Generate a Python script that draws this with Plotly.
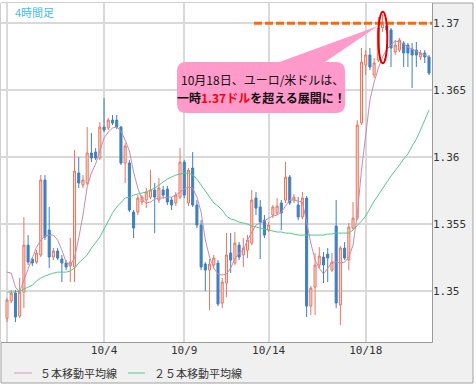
import plotly.graph_objects as go

# ---------------- data ----------------
idx = list(range(101))

open_ = [1.34795, 1.34923, 1.34982, 1.34810, 1.34990, 1.35341, 1.35237, 1.35214, 1.35267, 1.35828,
         1.35454, 1.35252, 1.35297, 1.35237, 1.35207, 1.35184, 1.35177, 1.35880, 1.35790, 1.35805,
         1.36030, 1.36037, 1.35992, 1.36224, 1.36217, 1.36276, 1.36276, 1.36224, 1.35955, 1.35955,
         1.35588, 1.35588, 1.35663, 1.35678, 1.35700, 1.35753, 1.35678, 1.35753, 1.35760, 1.35678,
         1.35656, 1.35700, 1.35962, 1.35656, 1.35917, 1.35641, 1.35491, 1.35199, 1.35154, 1.35192,
         1.35207, 1.34908, 1.35057, 1.35282, 1.35207, 1.35341, 1.35267, 1.35304, 1.35356, 1.35693,
         1.35626, 1.35528, 1.35454, 1.35566, 1.35581, 1.35656, 1.35678, 1.35850, 1.35678, 1.35641,
         1.35551, 1.35693, 1.34885, 1.35027, 1.35192, 1.35252, 1.35274, 1.35154, 1.35484, 1.34893,
         1.35319, 1.35229, 1.35469, 1.35543, 1.36254, 1.36688, 1.36763, 1.36613, 1.36725, 1.36965,
         1.36980, 1.36950, 1.36785, 1.36800, 1.36852, 1.36837, 1.36807, 1.36800, 1.36748, 1.36778,
         1.36748]

high = [1.34945, 1.35005, 1.35005, 1.35095, 1.35551, 1.35416, 1.35252, 1.35304, 1.35865, 1.35865,
        1.35626, 1.35319, 1.35319, 1.35267, 1.35229, 1.35394, 1.36052, 1.36000, 1.35865, 1.36224,
        1.36179, 1.36067, 1.36261, 1.36441, 1.36291, 1.36314, 1.36314, 1.36232, 1.36104, 1.35977,
        1.35603, 1.35715, 1.35715, 1.35768, 1.35902, 1.35805, 1.35843, 1.35783, 1.35783, 1.35700,
        1.35738, 1.36067, 1.35977, 1.35917, 1.36037, 1.35678, 1.35528, 1.35214, 1.35237, 1.35267,
        1.35229, 1.35095, 1.35431, 1.35431, 1.35439, 1.35364, 1.35394, 1.35416, 1.35753, 1.35738,
        1.35678, 1.35566, 1.35513, 1.35641, 1.35693, 1.35678, 1.35962, 1.35865, 1.35723, 1.35700,
        1.35738, 1.35708, 1.35035, 1.35282, 1.35326, 1.35289, 1.35319, 1.35282, 1.35678, 1.35334,
        1.35364, 1.35506, 1.35663, 1.36276, 1.36815, 1.36800, 1.36815, 1.36740, 1.37047, 1.37069,
        1.36994, 1.36965, 1.36875, 1.36890, 1.36867, 1.36852, 1.36852, 1.36860, 1.36800, 1.36800,
        1.36763]

low = [1.34765, 1.34908, 1.34765, 1.34795, 1.34870, 1.35192, 1.35184, 1.35199, 1.35252, 1.35379,
       1.35169, 1.35229, 1.35229, 1.35065, 1.35154, 1.35065, 1.35065, 1.35768, 1.35768, 1.35790,
       1.35962, 1.35977, 1.35977, 1.36187, 1.36202, 1.36239, 1.36209, 1.35940, 1.35805, 1.35588,
       1.35394, 1.35566, 1.35641, 1.35618, 1.35685, 1.35431, 1.35656, 1.35693, 1.35641, 1.35603,
       1.35633, 1.35685, 1.35693, 1.35633, 1.35626, 1.35469, 1.35154, 1.34997, 1.34855, 1.35169,
       1.34885, 1.34870, 1.34952, 1.35132, 1.35192, 1.35229, 1.35177, 1.35244, 1.35341, 1.35566,
       1.35237, 1.35394, 1.35439, 1.35543, 1.35566, 1.35454, 1.35656, 1.35641, 1.35656, 1.35528,
       1.35536, 1.34803, 1.34818, 1.34818, 1.35169, 1.35057, 1.35065, 1.35139, 1.34870, 1.34743,
       1.35229, 1.35154, 1.35454, 1.35528, 1.36239, 1.36613, 1.36650, 1.36591, 1.36710, 1.36935,
       1.36927, 1.36673, 1.36763, 1.36785, 1.36673, 1.36673, 1.36516, 1.36673, 1.36725, 1.36703,
       1.36613]

close = [1.34930, 1.34982, 1.34803, 1.34990, 1.35341, 1.35214, 1.35207, 1.35282, 1.35828, 1.35401,
         1.35252, 1.35297, 1.35244, 1.35207, 1.35177, 1.35214, 1.35895, 1.35805, 1.35828, 1.36030,
         1.35992, 1.35992, 1.36224, 1.36202, 1.36276, 1.36254, 1.36224, 1.35955, 1.36082, 1.35603,
         1.35469, 1.35693, 1.35700, 1.35738, 1.35753, 1.35700, 1.35768, 1.35715, 1.35663, 1.35641,
         1.35715, 1.35962, 1.35715, 1.35902, 1.35641, 1.35491, 1.35177, 1.35154, 1.35199, 1.35244,
         1.34900, 1.35065, 1.35267, 1.35229, 1.35356, 1.35252, 1.35319, 1.35379, 1.35678, 1.35618,
         1.35513, 1.35416, 1.35491, 1.35626, 1.35633, 1.35581, 1.35850, 1.35656, 1.35700, 1.35551,
         1.35693, 1.34885, 1.35020, 1.35192, 1.35259, 1.35192, 1.35244, 1.35214, 1.34908, 1.35319,
         1.35244, 1.35476, 1.35543, 1.36239, 1.36710, 1.36763, 1.36673, 1.36703, 1.36965, 1.37009,
         1.36950, 1.36815, 1.36837, 1.36875, 1.36778, 1.36778, 1.36763, 1.36763, 1.36778, 1.36748,
         1.36628]

ma5 = [1.35139, 1.35132, 1.35027, 1.34990, 1.35080, 1.35169, 1.35244, 1.35326, 1.35379, 1.35409,
       1.35416, 1.35416, 1.35379, 1.35304, 1.35214, 1.35192, 1.35244, 1.35394, 1.35566, 1.35775,
       1.35880, 1.35947, 1.36052, 1.36142, 1.36187, 1.36217, 1.36224, 1.36194, 1.36127, 1.36045,
       1.35887, 1.35768, 1.35678, 1.35656, 1.35663, 1.35685, 1.35693, 1.35693, 1.35700, 1.35700,
       1.35715, 1.35738, 1.35760, 1.35775, 1.35768, 1.35700, 1.35588, 1.35379, 1.35252, 1.35169,
       1.35124, 1.35117, 1.35124, 1.35169, 1.35237, 1.35282, 1.35304, 1.35379, 1.35439, 1.35491,
       1.35506, 1.35521, 1.35543, 1.35558, 1.35566, 1.35588, 1.35633, 1.35678, 1.35678, 1.35671,
       1.35663, 1.35513, 1.35356, 1.35229, 1.35169, 1.35124, 1.35169, 1.35214, 1.35214, 1.35207,
       1.35214, 1.35252, 1.35341, 1.35566, 1.35902, 1.36172, 1.36426, 1.36561, 1.36665, 1.36748,
       1.36807, 1.36837, 1.36867, 1.36860, 1.36845, 1.36822, 1.36807, 1.36793, 1.36778, 1.36763,
       1.36748]

ma25 = [1.34990, 1.34990, 1.34990, 1.34997, 1.35012, 1.35027, 1.35042, 1.35072, 1.35095, 1.35110,
        1.35124, 1.35132, 1.35139, 1.35139, 1.35139, 1.35147, 1.35169, 1.35207, 1.35237, 1.35267,
        1.35319, 1.35356, 1.35401, 1.35461, 1.35521, 1.35581, 1.35626, 1.35656, 1.35693, 1.35700,
        1.35715, 1.35723, 1.35730, 1.35738, 1.35753, 1.35768, 1.35790, 1.35813, 1.35835, 1.35850,
        1.35865, 1.35872, 1.35880, 1.35880, 1.35865, 1.35835, 1.35790, 1.35745, 1.35693, 1.35656,
        1.35633, 1.35603, 1.35558, 1.35536, 1.35528, 1.35513, 1.35506, 1.35498, 1.35484, 1.35476,
        1.35469, 1.35461, 1.35454, 1.35446, 1.35439, 1.35439, 1.35431, 1.35431, 1.35424, 1.35416,
        1.35416, 1.35416, 1.35416, 1.35416, 1.35416, 1.35416, 1.35424, 1.35424, 1.35431, 1.35431,
        1.35431, 1.35431, 1.35454, 1.35484, 1.35521, 1.35558, 1.35618, 1.35671, 1.35715, 1.35768,
        1.35813, 1.35858, 1.35895, 1.35940, 1.35985, 1.36022, 1.36082, 1.36134, 1.36202, 1.36276,
        1.36351]

x_tick_idx = [23, 42, 62, 85]
x_tick_text = ["10/4", "10/9", "10/14", "10/18"]
y_tick_vals = [1.35, 1.355, 1.36, 1.365, 1.37]
y_tick_text = ["1.35", "1.355", "1.36", "1.365", "1.37"]
peak_level = 1.37

title_text = "4時間足"
note_line1 = "10月18日、ユーロ/米ドルは、"
note_line2 = "<b>一時<span style='color:#ff0000'>1.37ドル</span>を超える展開に！</b>"
legend_ma5 = "５本移動平均線"
legend_ma25 = "２５本移動平均線"

# ---------------- layout helpers (pixel -> paper) ----------------
W, H = 476, 386
PL, PR, PT, PB = 1, 432, 3, 342


def X(px):
    return (px - PL) / (PR - PL)


def Y(py):
    return (PB - py) / (PB - PT)


def path_px(points, close_path=True):
    s = ""
    for i, (cmd, pts) in enumerate(points):
        s += cmd + " " + " ".join(f"{X(a):.5f},{Y(b):.5f}" for a, b in pts) + " "
    return s + ("Z" if close_path else "")


def rounded_rect(x0, y0, x1, y1, r):
    pts = [
        ("M", [(x0 + r, y0)]), ("L", [(x1 - r, y0)]), ("Q", [(x1, y0), (x1, y0 + r)]),
        ("L", [(x1, y1 - r)]), ("Q", [(x1, y1), (x1 - r, y1)]),
        ("L", [(x0 + r, y1)]), ("Q", [(x0, y1), (x0, y1 - r)]),
        ("L", [(x0, y0 + r)]), ("Q", [(x0, y0), (x0 + r, y0)]),
    ]
    return path_px(pts)


fig = go.Figure()
fig.add_trace(go.Candlestick(
    x=idx, open=open_, high=high, low=low, close=close,
    increasing=dict(line=dict(color="#e6775f", width=1), fillcolor="#fbd8ce"),
    decreasing=dict(line=dict(color="#3f80c0", width=1), fillcolor="#3f80c0"),
    whiskerwidth=0, showlegend=False, hoverinfo="skip",
))
fig.add_trace(go.Scatter(x=idx, y=ma5, mode="lines",
                         line=dict(color="#c98bb0", width=1), showlegend=False, hoverinfo="skip"))
fig.add_trace(go.Scatter(x=idx, y=ma25, mode="lines",
                         line=dict(color="#55c98c", width=1), showlegend=False, hoverinfo="skip"))

mono = dict(family="DejaVu Sans Mono", size=11, color="#333333")
jp = "Noto Sans CJK JP"

xr0 = -6 / 4.22
xr1 = xr0 + (PR - PL) / 4.22
yr1 = 1.37 + (23.3 - PT) / 13370
yr0 = 1.37 - (PB - 23.3) / 13370

shapes = [
    dict(type="rect", xref="paper", yref="paper", x0=X(1), x1=X(473), y0=Y(383), y1=Y(3),
         fillcolor="#f0f0f0", line=dict(color="#a0a0a0", width=1), layer="below"),
    dict(type="rect", xref="paper", yref="paper", x0=X(1), x1=X(432), y0=Y(342), y1=Y(3),
         fillcolor="white", line=dict(width=0), layer="below"),
    dict(type="line", xref="paper", yref="paper", x0=X(7), x1=X(7), y0=Y(342), y1=Y(3),
         line=dict(color="#d9d9d9", width=2), layer="below"),
    dict(type="line", xref="paper", yref="paper", x0=X(1), x1=X(432.5), y0=Y(342.5), y1=Y(342.5),
         line=dict(color="#9a9a9a", width=1)),
    dict(type="line", xref="paper", yref="paper", x0=X(432.5), x1=X(432.5), y0=Y(342.5), y1=Y(3),
         line=dict(color="#9a9a9a", width=1)),
    # orange dashed line at 1.37
    dict(type="line", xref="paper", yref="y", x0=X(254), x1=X(432), y0=peak_level, y1=peak_level,
         line=dict(color="#ff6a00", width=3, dash="8px,3px")),
    # speech bubble
    dict(type="path", xref="paper", yref="paper",
         path=path_px([("M", [(274, 64)]), ("L", [(322, 64)]), ("L", [(378, 26)])]),
         fillcolor="#ff9acb", line=dict(width=0)),
    dict(type="path", xref="paper", yref="paper", path=rounded_rect(177, 62, 345, 113, 9),
         fillcolor="#ff9acb", line=dict(width=0)),
    # red ellipse around the peak
    dict(type="circle", xref="paper", yref="paper", x0=X(378.3), x1=X(387.3), y0=Y(63.3), y1=Y(11.7),
         line=dict(color="#e00000", width=2)),
    # legend lines
    dict(type="line", xref="paper", yref="paper", x0=X(14), x1=X(32), y0=Y(373), y1=Y(373),
         line=dict(color="#d9a3c3", width=1.2)),
    dict(type="line", xref="paper", yref="paper", x0=X(128), x1=X(145), y0=Y(373), y1=Y(373),
         line=dict(color="#6fd0a0", width=1.2)),
]

annotations = [
    dict(text=title_text, xref="paper", yref="paper", x=X(12.5), y=Y(12), xanchor="left",
         yanchor="middle", showarrow=False, font=dict(family=jp, size=11, color="#3fbdee")),
    dict(text=note_line1, xref="paper", yref="paper", x=X(262), y=Y(79.5), xanchor="center",
         yanchor="middle", showarrow=False, font=dict(family=jp, size=12, color="#111111")),
    dict(text=note_line2, xref="paper", yref="paper", x=X(261), y=Y(97.5), xanchor="center",
         yanchor="middle", showarrow=False, font=dict(family=jp, size=12, color="#111111")),
    dict(text=legend_ma5, xref="paper", yref="paper", x=X(37.5), y=Y(373), xanchor="left",
         yanchor="middle", showarrow=False, font=dict(family=jp, size=11, color="#333333")),
    dict(text=legend_ma25, xref="paper", yref="paper", x=X(151.5), y=Y(373), xanchor="left",
         yanchor="middle", showarrow=False, font=dict(family=jp, size=11, color="#333333")),
]

fig.update_layout(
    width=W, height=H,
    margin=dict(l=PL, r=W - PR, t=PT, b=H - PB, pad=0),
    paper_bgcolor="white", plot_bgcolor="rgba(0,0,0,0)",
    showlegend=False,
    shapes=shapes, annotations=annotations,
    xaxis=dict(range=[xr0, xr1], tickmode="array", tickvals=x_tick_idx, ticktext=x_tick_text,
               showgrid=True, gridcolor="#d9d9d9", gridwidth=1.5, zeroline=False, showline=False,
               ticks="", tickfont=mono, rangeslider=dict(visible=False), fixedrange=True),
    yaxis=dict(range=[yr0, yr1], side="right", tickmode="array", tickvals=y_tick_vals,
               ticktext=y_tick_text, showgrid=True, gridcolor="#d9d9d9", gridwidth=1.5,
               zeroline=False, showline=False, ticks="", tickfont=mono, fixedrange=True),
)

fig.write_html("out.html")
